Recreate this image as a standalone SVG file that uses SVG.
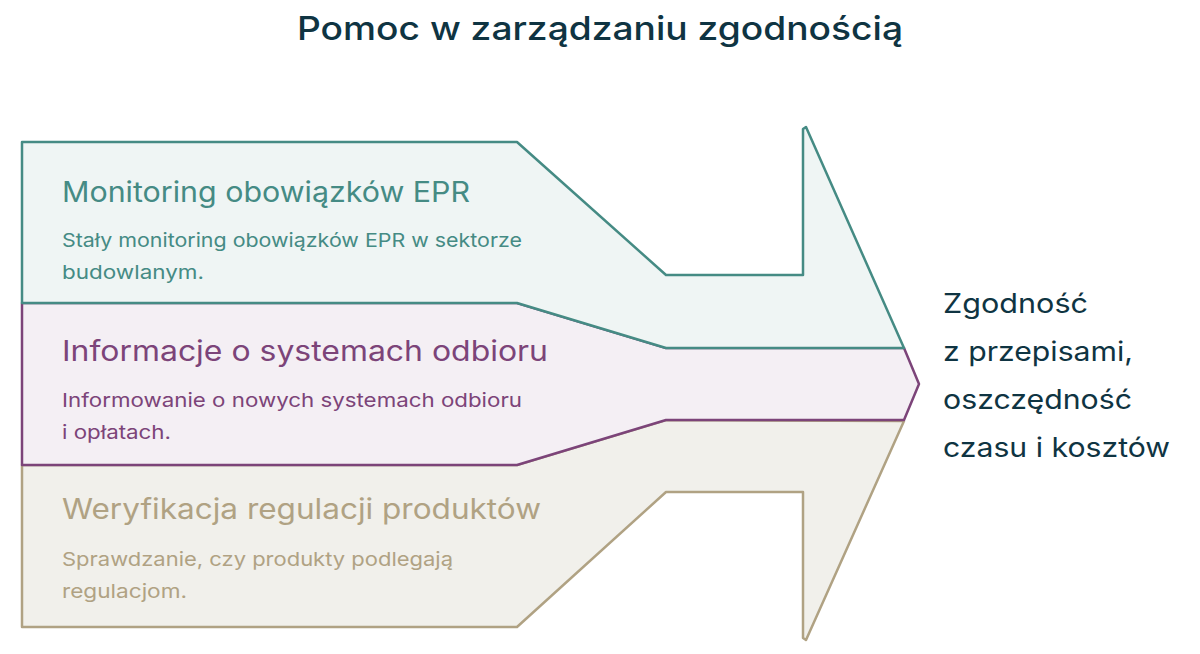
<svg xmlns="http://www.w3.org/2000/svg" width="1200" height="654" viewBox="0 0 1200 654">
<style>
.t{font-family:Inter,"Noto Sans","Liberation Sans",sans-serif}
.title{font-size:33px;font-weight:500;fill:#0F3442}
.h{font-size:28px;font-weight:400}
.s{font-size:19px;font-weight:400}
.r{font-size:27px;font-weight:400;fill:#0F3442}
.shape{stroke-width:2.5;stroke-linejoin:round}
.teal{fill:#EFF5F4;stroke:#458B84}
.purple{fill:#F4EFF4;stroke:#7C4479}
.tan{fill:#F1F0EB;stroke:#B0A283}
.ct{fill:#458B84}.cp{fill:#7C4479}.cn{fill:#B0A283}
</style>
<rect width="1200" height="654" fill="#FFFFFF"/>
<text class="t title" x="297" y="40" textLength="606" lengthAdjust="spacingAndGlyphs">Pomoc w zarządzaniu zgodnością</text>
<g id="connectors"></g>
<g id="node-tan">
<path class="shape tan" d="M22,465 L517,465 L666,420 L904,421 L806,640 L803,638 L803,492 L666,492 L517,627 L22,627 Z"/>
<text class="t h cn" x="62" y="519" textLength="479" lengthAdjust="spacingAndGlyphs">Weryfikacja regulacji produktów</text>
<text class="t s cn" x="62" y="566" textLength="391" lengthAdjust="spacingAndGlyphs">Sprawdzanie, czy produkty podlegają</text>
<text class="t s cn" x="62" y="598" textLength="125" lengthAdjust="spacingAndGlyphs">regulacjom.</text>
</g>
<g id="node-purple">
<path class="shape purple" d="M22,303 L517,303 L666,348 L904,348 L919,384 L904,420 L666,420 L517,465 L22,465 Z"/>
<text class="t h cp" x="62" y="361" textLength="486" lengthAdjust="spacingAndGlyphs">Informacje o systemach odbioru</text>
<text class="t s cp" x="62" y="407" textLength="460" lengthAdjust="spacingAndGlyphs">Informowanie o nowych systemach odbioru</text>
<text class="t s cp" x="62" y="439" textLength="109" lengthAdjust="spacingAndGlyphs">i opłatach.</text>
</g>
<g id="node-teal">
<path class="shape teal" d="M22,142 L517,142 L666,275 L803,275 L803,129 L806,127 L904,348 L666,348 L517,303 L22,303 Z"/>
<text class="t h ct" x="62" y="202" textLength="408" lengthAdjust="spacingAndGlyphs">Monitoring obowiązków EPR</text>
<text class="t s ct" x="62" y="247" textLength="460" lengthAdjust="spacingAndGlyphs">Stały monitoring obowiązków EPR w sektorze</text>
<text class="t s ct" x="62" y="279" textLength="142" lengthAdjust="spacingAndGlyphs">budowlanym.</text>
</g>
<g id="node-result">
<text class="t r" x="943" y="313" textLength="145" lengthAdjust="spacingAndGlyphs">Zgodność</text>
<text class="t r" x="943" y="361" textLength="190" lengthAdjust="spacingAndGlyphs">z przepisami,</text>
<text class="t r" x="943" y="409" textLength="189" lengthAdjust="spacingAndGlyphs">oszczędność</text>
<text class="t r" x="943" y="457" textLength="227" lengthAdjust="spacingAndGlyphs">czasu i kosztów</text>
</g>
</svg>
